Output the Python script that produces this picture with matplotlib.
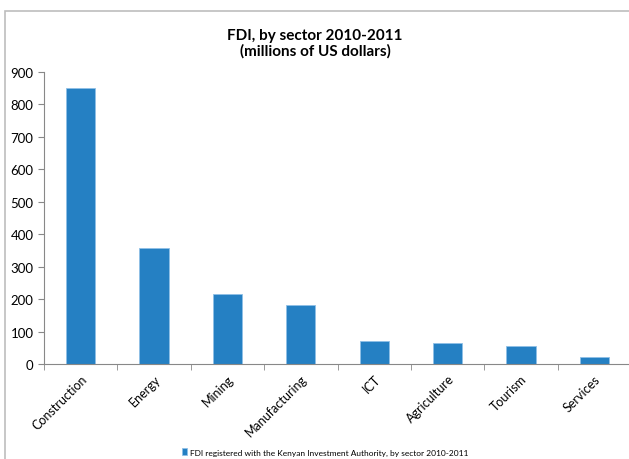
import matplotlib.pyplot as plt
from matplotlib.patches import Rectangle

# FDI registered with the Kenyan Investment Authority, 2010-2011
sectors = ['Construction', 'Energy', 'Mining', 'Manufacturing',
           'ICT', 'Agriculture', 'Tourism', 'Services']
fdi = [851, 358, 215, 181, 72, 65, 56, 21]
yticks = [0, 100, 200, 300, 400, 500, 600, 700, 800, 900]

plt.rcParams['font.family'] = ['Lato', 'DejaVu Sans']

fig = plt.figure(figsize=(6.29, 4.60), dpi=100)
ax = fig.add_axes([44 / 629, 95 / 460, 587 / 629, 292 / 460])

# outer chart frame (runs off the right and bottom edges)
fig.patches.append(Rectangle((5 / 629, -0.1), 1.0, 448 / 460 + 0.1,
                             transform=fig.transFigure, fill=False,
                             edgecolor='#bdbdbd', linewidth=1.2))

x = range(len(sectors))
ax.bar(x, fdi, width=0.4, color='#2580c3', edgecolor='#8fc0e6', linewidth=0.6,
       label='FDI registered with the Kenyan Investment Authority, by sector 2010-2011')

ax.set_xlim(-0.5, len(sectors) - 0.5)
ax.set_ylim(0, 900)
ax.set_yticks(yticks)
ax.tick_params(axis='y', labelsize=9.5, length=4, color='#888888', direction='out')
ax.set_xticks([i - 0.5 for i in x], minor=True)
ax.set_xticks(list(x))
ax.set_xticklabels(sectors, rotation=45, ha='right', rotation_mode='anchor', fontsize=9)
ax.tick_params(axis='x', which='major', length=0, pad=6)
ax.tick_params(axis='x', which='minor', length=4, color='#888888')

for side in ['top', 'right']:
    ax.spines[side].set_visible(False)
for side in ['left', 'bottom']:
    ax.spines[side].set_color('#888888')

fig.text(315 / 629, 1 - 36 / 460, 'FDI, by sector 2010-2011', ha='center', va='center',
         fontsize=11, fontweight='bold')
fig.text(315 / 629, 1 - 51 / 460, '(millions of US dollars)', ha='center', va='center',
         fontsize=11, fontweight='bold')

fig.legend(loc='center', bbox_to_anchor=(325 / 629, 1 - 453 / 460), frameon=False,
           fontsize=6, handlelength=0.7, handleheight=0.9, handletextpad=0.3)

fig.savefig('out.png', dpi=100)
